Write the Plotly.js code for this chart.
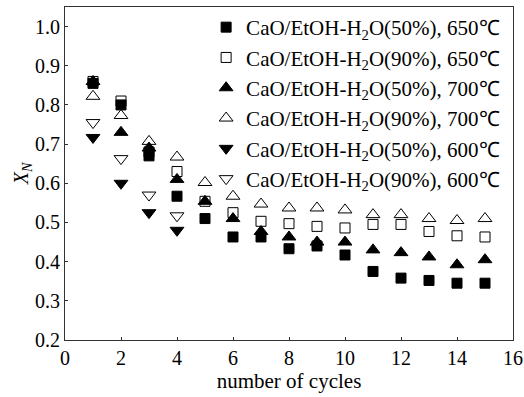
<!DOCTYPE html>
<html>
<head>
<meta charset="utf-8">
<script src="https://cdn.plot.ly/plotly-3.0.1.min.js"></script>
<style>html,body{margin:0;padding:0;background:#fff;}#chart{width:524px;height:397px;}</style>
</head>
<body>
<div id="chart"></div>
<script>
var cycles = [1,2,3,4,5,6,7,8,9,10,11,12,13,14,15];
var cycles600 = [1,2,3,4];
var s50_650 = [0.855,0.80,0.67,0.567,0.51,0.463,0.463,0.433,0.44,0.417,0.375,0.358,0.352,0.345,0.345];
var s90_650 = [0.86,0.81,0.68,0.63,0.554,0.525,0.503,0.497,0.49,0.486,0.495,0.495,0.477,0.466,0.463];
var s50_700 = [0.86,0.73,0.69,0.61,0.554,0.51,0.477,0.463,0.45,0.45,0.43,0.423,0.412,0.392,0.405];
var s90_700 = [0.822,0.773,0.707,0.667,0.602,0.567,0.547,0.537,0.537,0.532,0.52,0.52,0.51,0.505,0.51];
var s50_600 = [0.717,0.60,0.525,0.48];
var s90_600 = [0.755,0.663,0.57,0.517];
var names = [
  'CaO/EtOH-H<sub>2</sub>O(50%), 650℃',
  'CaO/EtOH-H<sub>2</sub>O(90%), 650℃',
  'CaO/EtOH-H<sub>2</sub>O(50%), 700℃',
  'CaO/EtOH-H<sub>2</sub>O(90%), 700℃',
  'CaO/EtOH-H<sub>2</sub>O(50%), 600℃',
  'CaO/EtOH-H<sub>2</sub>O(90%), 600℃'
];
var xTicks = [0,2,4,6,8,10,12,14,16];
var yTicks = [0.2,0.3,0.4,0.5,0.6,0.7,0.8,0.9,1.0];
var yTickText = ['0.2','0.3','0.4','0.5','0.6','0.7','0.8','0.9','1.0'];

function tr(x, y, name, sym, sz, g) {
  return {x: x, y: y, name: name, type: 'scatter', mode: 'markers', legendgroup: g,
    marker: {symbol: sym, size: sz, color: '#000', line: {color: '#000', width: 1}}};
}
var data = [
  tr(cycles, s50_650, names[0], 'square', 10, 'a'),
  tr(cycles, s90_650, names[1], 'square-open', 10, 'b'),
  tr(cycles, s50_700, names[2], 'triangle-up', 12, 'c'),
  tr(cycles, s90_700, names[3], 'triangle-up-open', 12, 'd'),
  tr(cycles600, s50_600, names[4], 'triangle-down', 12, 'e'),
  tr(cycles600, s90_600, names[5], 'triangle-down-open', 12, 'f')
];
var fam = 'Times New Roman, Liberation Serif, serif';
var layout = {
  width: 524, height: 397,
  margin: {l: 65, r: 11, t: 7, b: 57},
  paper_bgcolor: '#fff', plot_bgcolor: '#fff',
  font: {family: fam, color: '#000', size: 20},
  showlegend: true,
  legend: {x: 0.315, y: 1.0, xanchor: 'left', yanchor: 'top', bgcolor: 'rgba(0,0,0,0)',
    font: {family: fam, size: 21, color: '#000'}, traceorder: 'grouped', tracegroupgap: 0,
    itemwidth: 30},
  xaxis: {range: [0, 16], tickvals: xTicks, ticktext: xTicks.map(String), ticks: 'inside', ticklen: 3,
    tickcolor: '#333', showline: true, linecolor: '#333', linewidth: 1, mirror: true,
    showgrid: false, zeroline: false, tickfont: {family: fam, size: 20, color: '#000'},
    title: {text: 'number of cycles', font: {family: fam, size: 21, color: '#000'}, standoff: 4}},
  yaxis: {range: [0.2, 1.05], tickvals: yTicks, ticktext: yTickText, ticks: 'inside', ticklen: 3,
    tickcolor: '#333', showline: true, linecolor: '#333', linewidth: 1, mirror: true,
    showgrid: false, zeroline: false, tickfont: {family: fam, size: 20, color: '#000'},
    title: {text: '<i>X</i><sub><i>N</i></sub>', font: {family: fam, size: 20, color: '#000'}, standoff: 0}}
};
Plotly.newPlot('chart', data, layout, {displayModeBar: false, staticPlot: true});
</script>
</body>
</html>
